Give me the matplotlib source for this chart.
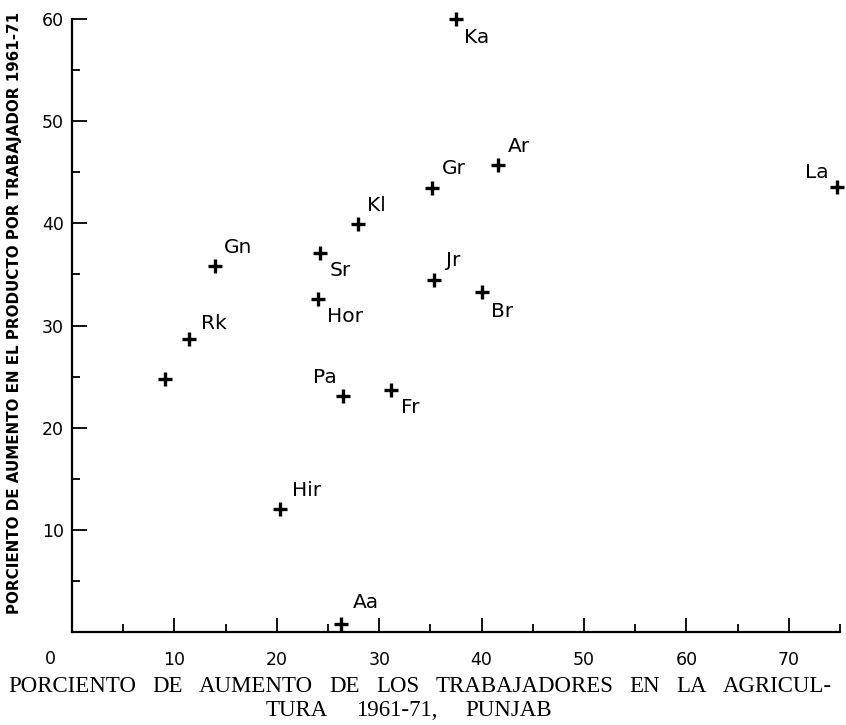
import numpy as np
import matplotlib
matplotlib.use("Agg")
import matplotlib.pyplot as plt
from matplotlib.ticker import MultipleLocator

# distritos del Punjab: aumento de trabajadores (x) y de producto por trabajador (y)
distritos = ["Ka", "Gr", "Ar", "La", "Kl", "Gn", "Sr", "Jr", "Br", "Hor",
             "Rk", "", "Pa", "Fr", "Hir", "Aa"]
aum_trab = [37.5, 35.2, 41.6, 74.7, 27.9, 14.0, 24.2, 35.4, 40.0, 24.0,
            11.4, 9.1, 26.5, 31.2, 20.3, 26.3]
aum_prod = [60.0, 43.5, 45.7, 43.6, 39.9, 35.8, 37.1, 34.5, 33.3, 32.6,
            28.7, 24.8, 23.1, 23.7, 12.0, 0.8]

xticks = [10, 20, 30, 40, 50, 60, 70]
yticks = [10, 20, 30, 40, 50, 60]

titulo_x = ["PORCIENTO DE AUMENTO DE LOS TRABAJADORES EN LA AGRICUL-",
            "TURA 1961-71, PUNJAB"]
titulo_y = "PORCIENTO DE AUMENTO EN EL PRODUCTO POR TRABAJADOR 1961-71"

# desplazamiento de cada etiqueta (puntos) y alineacion
arriba, abajo = 13.5, -12.5
despl = {
    "Ka": (6, -13, "left"), "Gr": (7, arriba, "left"), "Ar": (7, arriba, "left"),
    "La": (-6, 10, "right"), "Kl": (7, arriba, "left"), "Gn": (6, arriba, "left"),
    "Sr": (7, abajo, "left"), "Jr": (8, arriba, "left"), "Br": (7, -14, "left"),
    "Hor": (7, abajo, "left"), "Rk": (9, 11, "left"), "Pa": (-5, arriba, "right"),
    "Fr": (7, abajo, "left"), "Hir": (9, arriba, "left"), "Aa": (8, 15, "left"),
}

W, H = 846, 725
fig = plt.figure(figsize=(W / 100, H / 100), dpi=100)
ax = fig.add_axes([72 / W, 1 - 632 / H, (840 - 72) / W, (632 - 19) / H])

ax.plot(aum_trab, aum_prod, "+", color="black", ms=10, mew=2.4, clip_on=False)

for nombre, x, y in zip(distritos, aum_trab, aum_prod):
    if not nombre:
        continue
    dx, dy, ha = despl[nombre]
    ax.annotate(nombre, (x, y), xytext=(dx, dy), textcoords="offset points",
                ha=ha, va="center", fontsize=14.5, family="DejaVu Sans")

ax.set_xlim(0, 75)
ax.set_ylim(0, 60)
ax.set_xticks(xticks)
ax.set_yticks(yticks)
ax.xaxis.set_minor_locator(MultipleLocator(5))
ax.yaxis.set_minor_locator(MultipleLocator(5))

for lado in ["top", "right"]:
    ax.spines[lado].set_visible(False)
for lado in ["left", "bottom"]:
    ax.spines[lado].set_linewidth(1.6)

ax.tick_params(which="both", direction="in", width=1.3, labelsize=12.5)
ax.tick_params(axis="x", which="major", length=10, pad=14)
ax.tick_params(axis="x", which="minor", length=6)
ax.tick_params(axis="y", which="major", length=11, pad=6)
ax.tick_params(axis="y", which="minor", length=6)

fig.text(50 / W, 1 - 659 / H, "0", ha="center", va="center", fontsize=12.5)

fig.text(15 / W, 1 - 313 / H, titulo_y, rotation=90, ha="center",
         va="center", fontsize=10.9, fontweight="bold")


def linea_justificada(palabras, x0, x1, y, **kw):
    # reparte el espacio sobrante entre las palabras para ocupar de x0 a x1
    textos = [fig.text(0, 1 - y / H, p, ha="left", va="center", **kw)
              for p in palabras]
    fig.canvas.draw()
    r = fig.canvas.get_renderer()
    anchos = [t.get_window_extent(r).width for t in textos]
    hueco = (x1 - x0 - sum(anchos)) / max(len(palabras) - 1, 1)
    x = x0
    for t, a in zip(textos, anchos):
        t.set_x(x / W)
        x += a + hueco


serif = dict(fontsize=16.5, family="Liberation Serif")
linea_justificada(titulo_x[0].split(), 8, 832, 686, **serif)
linea_justificada(titulo_x[1].split(), 266, 552, 711, **serif)

fig.savefig("out.png", dpi=100)
